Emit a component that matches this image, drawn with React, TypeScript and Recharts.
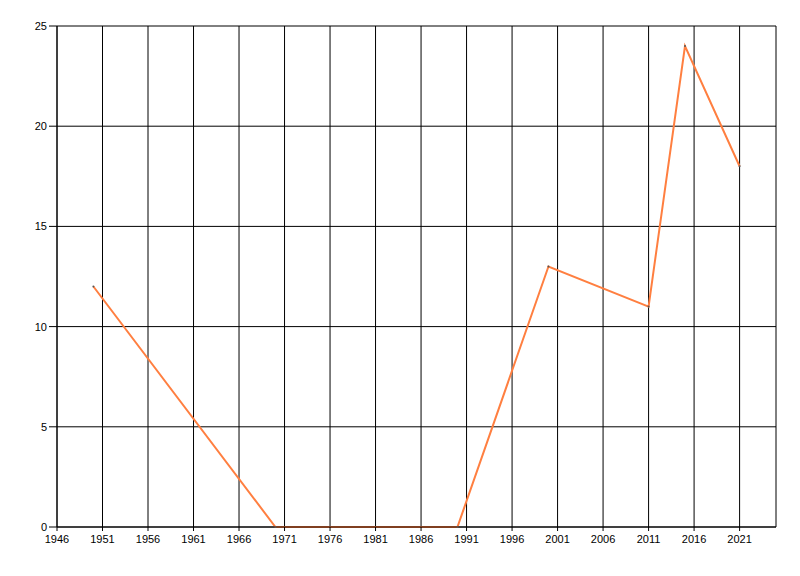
import React from 'react';
import { LineChart, Line, XAxis, YAxis, CartesianGrid } from 'recharts';

const years = [1950, 1970, 1990, 2000, 2011, 2015, 2021];
const values = [12, 0, 0, 13, 11, 24, 18];
const xTicks = [1946, 1951, 1956, 1961, 1966, 1971, 1976, 1981, 1986, 1991, 1996, 2001, 2006, 2011, 2016, 2021];
const yTicks = [0, 5, 10, 15, 20, 25];

const data = years.map((year, i) => ({ year, value: values[i] }));

const tickFont = { fontFamily: 'Liberation Sans, Arial, sans-serif', fontSize: 11, fill: '#000' };

export default function App() {
  return (
    <LineChart width={784} height={560} data={data} margin={{ top: 18, right: 16, left: 0, bottom: 16 }}>
      <CartesianGrid stroke="#000" strokeWidth={1} />
      <XAxis
        dataKey="year"
        type="number"
        domain={[1946, 2025]}
        ticks={xTicks}
        interval={0}
        height={25}
        tickSize={4}
        tickMargin={4}
        stroke="#000"
        tick={tickFont}
        allowDataOverflow
      />
      <YAxis
        type="number"
        domain={[0, 25]}
        ticks={yTicks}
        interval={0}
        width={49}
        tickSize={8}
        tickMargin={2}
        stroke="#000"
        tick={tickFont}
      />
      <Line
        type="linear"
        dataKey="value"
        stroke="#ff7f40"
        strokeWidth={2}
        dot={{ r: 1, fill: '#555', stroke: 'none' }}
        activeDot={false}
        isAnimationActive={false}
      />
    </LineChart>
  );
}
